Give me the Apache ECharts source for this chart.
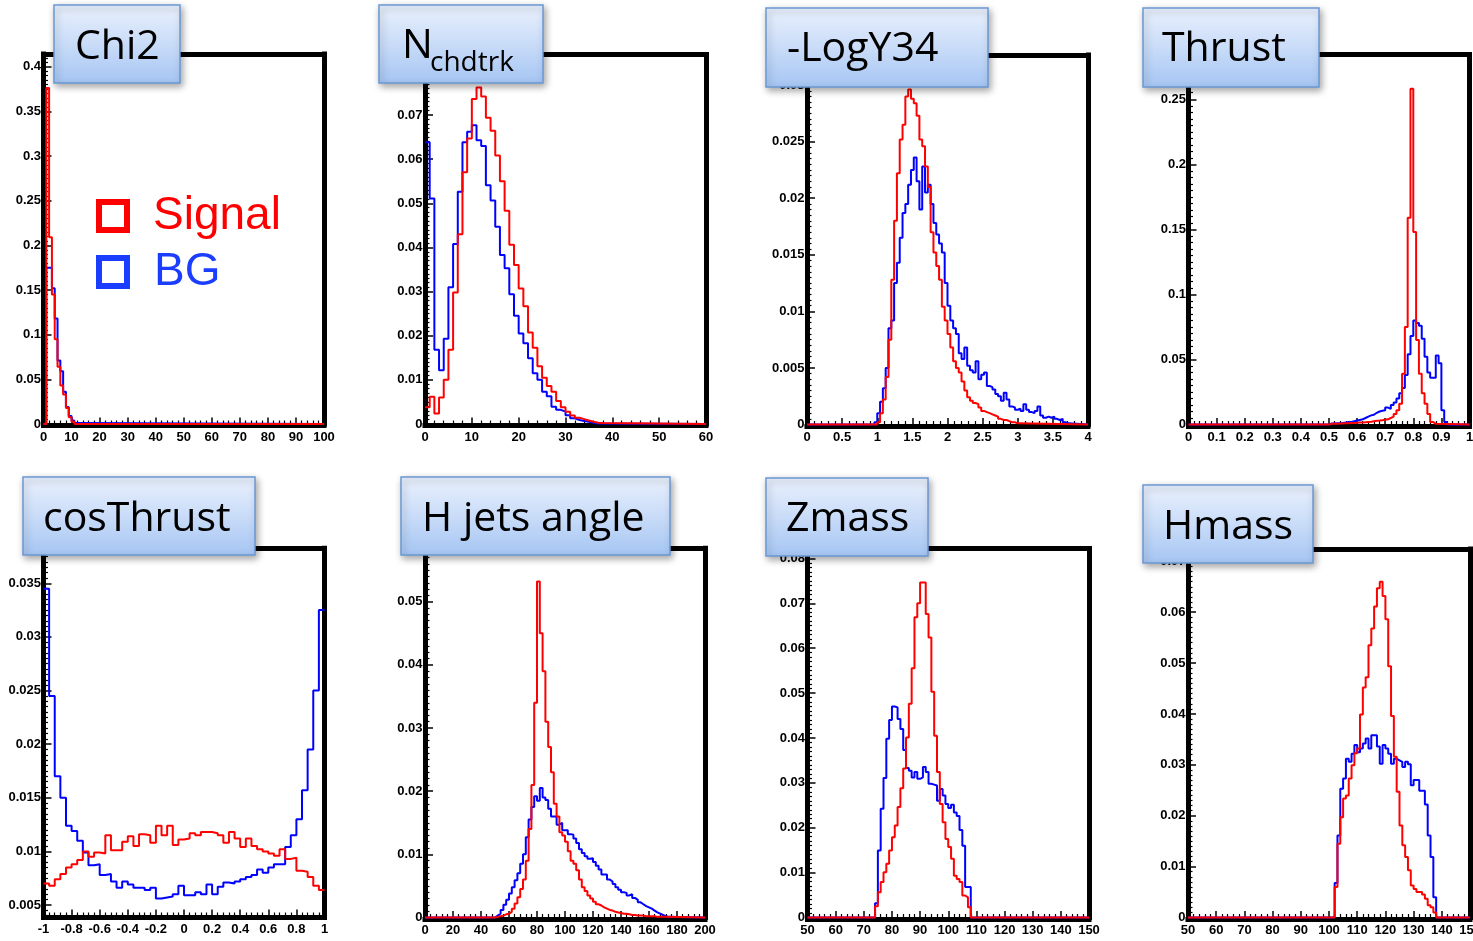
<!DOCTYPE html>
<html><head><meta charset="utf-8">
<script src="https://cdn.jsdelivr.net/npm/echarts@6/dist/echarts.min.js"></script>
<style>html,body{margin:0;padding:0;background:#fff;overflow:hidden}#c{width:1473px;height:941px}</style>
</head><body><div id="c"></div>
<script>
// ---------------- DATA (bin start, bin width, bin contents) ----------------
const chi2Start = 1, chi2Width = 1;
const chi2Signal = [0.376, 0.209, 0.145, 0.095, 0.064, 0.043, 0.033, 0.018, 0.0075, 0.0026];
const chi2BG = [0.175, 0.175, 0.152, 0.118, 0.071, 0.059, 0.036, 0.019, 0.009, 0.004, 0.0012];

const nchStart = 0, nchWidth = 1;
const nchSignal = [0.0038, 0.0062, 0.0024, 0.006, 0.01, 0.0168, 0.0298, 0.043, 0.057, 0.0647, 0.0736, 0.0762, 0.0742, 0.0694, 0.0664, 0.0608, 0.055, 0.0483, 0.0406, 0.036, 0.0307, 0.0267, 0.0207, 0.0173, 0.0131, 0.0105, 0.0086, 0.0073, 0.0052, 0.0038, 0.0028, 0.0019, 0.0014, 0.0011, 0.0008, 0.0005, 0.0003, 0.0002];
const nchBG = [0.0638, 0.0511, 0.0168, 0.0122, 0.0193, 0.031, 0.0408, 0.0526, 0.0638, 0.0662, 0.0677, 0.0643, 0.063, 0.0541, 0.0506, 0.0447, 0.0383, 0.0353, 0.0294, 0.0245, 0.0205, 0.0183, 0.0149, 0.0115, 0.01, 0.0073, 0.0063, 0.0039, 0.0032, 0.0028, 0.002, 0.0013, 0.0009, 0.0007, 0.0005, 0.0003, 0.0001];

const logySigStart = 1.0, logyBGStart = 0.96, logyWidth = 0.04;
const logySignal = [0.0002, 0.001, 0.0022, 0.0042, 0.0075, 0.0128, 0.018, 0.0222, 0.0252, 0.0265, 0.029, 0.0296, 0.0288, 0.0284, 0.0273, 0.0252, 0.0246, 0.0228, 0.021, 0.017, 0.0152, 0.014, 0.0128, 0.0104, 0.0092, 0.008, 0.0068, 0.0056, 0.005, 0.0046, 0.0038, 0.003, 0.0024, 0.0021, 0.0019, 0.0018, 0.0015, 0.0012, 0.0011, 0.001, 0.0009, 0.0008, 0.0007, 0.0005, 0.0004, 0.0004, 0.0003, 0.0002, 0.0002, 0.0001];
const logyBG = [0.0002, 0.001, 0.002, 0.0032, 0.005, 0.0085, 0.0092, 0.0125, 0.0143, 0.0165, 0.0187, 0.0195, 0.0212, 0.0225, 0.0236, 0.0215, 0.019, 0.0228, 0.0205, 0.0212, 0.0195, 0.0178, 0.0168, 0.016, 0.0152, 0.0125, 0.0105, 0.0092, 0.0085, 0.008, 0.0063, 0.0058, 0.0068, 0.0052, 0.0048, 0.0046, 0.0056, 0.004, 0.0044, 0.0046, 0.0034, 0.0033, 0.0031, 0.0027, 0.0025, 0.0021, 0.0028, 0.0022, 0.0016, 0.0015, 0.0013, 0.0014, 0.0012, 0.0018, 0.0013, 0.0011, 0.001, 0.0012, 0.0016, 0.0008, 0.0006, 0.0007, 0.0006, 0.0007, 0.0005, 0.0004, 0.0005, 0.0002, 0.0001];

const thrustStart = 0.5, thrustWidth = 0.01;
const thrustSignal = [0.0005, 0.0005, 0.0006, 0.0007, 0.0008, 0.0009, 0.001, 0.0011, 0.0012, 0.0013, 0.0015, 0.0016, 0.0018, 0.002, 0.0022, 0.0025, 0.0028, 0.003, 0.0033, 0.0036, 0.004, 0.005, 0.006, 0.008, 0.011, 0.016, 0.039, 0.075, 0.159, 0.258, 0.148, 0.065, 0.039, 0.024, 0.016, 0.008, 0.002, 0.0005];
const thrustBG = [0.0008, 0.0008, 0.001, 0.001, 0.0012, 0.0015, 0.002, 0.002, 0.0025, 0.003, 0.0035, 0.004, 0.005, 0.006, 0.007, 0.0075, 0.009, 0.01, 0.0105, 0.011, 0.013, 0.012, 0.015, 0.017, 0.02, 0.024, 0.028, 0.038, 0.054, 0.068, 0.08, 0.078, 0.076, 0.066, 0.052, 0.04, 0.036, 0.036, 0.053, 0.047, 0.011, 0.002];

const cosStart = -1, cosWidth = 0.04;
const cosSignal = [0.007, 0.0068, 0.0074, 0.0079, 0.0085, 0.0088, 0.0092, 0.01, 0.0095, 0.0099, 0.0098, 0.0115, 0.0101, 0.0101, 0.0109, 0.0114, 0.0105, 0.0116, 0.0115, 0.0108, 0.0124, 0.0115, 0.0124, 0.0106, 0.0111, 0.0112, 0.0117, 0.0115, 0.0118, 0.0118, 0.0117, 0.0115, 0.0108, 0.0118, 0.0112, 0.0104, 0.0112, 0.0105, 0.0102, 0.01, 0.0098, 0.0096, 0.0102, 0.0093, 0.0094, 0.0082, 0.0081, 0.0076, 0.0068, 0.0064];
const cosBG = [0.0345, 0.0245, 0.017, 0.015, 0.0124, 0.0119, 0.011, 0.0099, 0.0087, 0.0088, 0.0078, 0.0079, 0.0072, 0.0066, 0.0072, 0.0069, 0.0066, 0.0066, 0.0064, 0.0066, 0.0056, 0.0057, 0.0058, 0.006, 0.0068, 0.0059, 0.0059, 0.0062, 0.006, 0.0069, 0.006, 0.0067, 0.0071, 0.007, 0.0072, 0.0074, 0.0076, 0.0078, 0.0083, 0.008, 0.0085, 0.0088, 0.0088, 0.0104, 0.0115, 0.013, 0.0157, 0.0195, 0.025, 0.0325];

const hjetStart = 50, hjetWidth = 2;
const hjetSignal = [0.0001, 0.0002, 0.0003, 0.0005, 0.0006, 0.0009, 0.0014, 0.0022, 0.0032, 0.0045, 0.006, 0.009, 0.014, 0.021, 0.034, 0.0532, 0.045, 0.039, 0.031, 0.027, 0.023, 0.018, 0.016, 0.0135, 0.013, 0.012, 0.0105, 0.009, 0.0085, 0.0075, 0.006, 0.0048, 0.0042, 0.0035, 0.003, 0.0025, 0.0021, 0.0019, 0.0016, 0.0014, 0.0012, 0.0011, 0.0009, 0.0008, 0.0007, 0.0006, 0.0006, 0.0005, 0.0004, 0.0004, 0.0003, 0.0003, 0.0003, 0.0002, 0.0002, 0.0002, 0.0002, 0.0001, 0.0001, 0.0001];
const hjetBG = [0.0003, 0.0006, 0.0012, 0.002, 0.0028, 0.0038, 0.0048, 0.0059, 0.007, 0.0085, 0.01, 0.0127, 0.0155, 0.0175, 0.0192, 0.0185, 0.0205, 0.019, 0.0186, 0.0172, 0.016, 0.016, 0.0147, 0.015, 0.0138, 0.0138, 0.0132, 0.0131, 0.0125, 0.0118, 0.0108, 0.0102, 0.0097, 0.0093, 0.0094, 0.0088, 0.0082, 0.0076, 0.0068, 0.0068, 0.006, 0.0057, 0.0053, 0.0048, 0.0044, 0.004, 0.0039, 0.0035, 0.0037, 0.0031, 0.0028, 0.0024, 0.0021, 0.0018, 0.0016, 0.0014, 0.0011, 0.0008, 0.0006, 0.0004, 0.0002, 0.0001];

const zStart = 74, zWidth = 1;
const zSignal = [0.0025, 0.0056, 0.0079, 0.0101, 0.012, 0.0149, 0.0179, 0.0205, 0.0246, 0.0288, 0.0332, 0.0401, 0.0476, 0.0555, 0.0669, 0.07, 0.0746, 0.0746, 0.0676, 0.0624, 0.0503, 0.0405, 0.0324, 0.0253, 0.0212, 0.0175, 0.0157, 0.0131, 0.0093, 0.0086, 0.0079, 0.0049, 0.0045, 0.0023];
const zBG = [0.0032, 0.0149, 0.0242, 0.0311, 0.0398, 0.044, 0.047, 0.0468, 0.0442, 0.042, 0.0373, 0.0333, 0.0327, 0.0312, 0.0324, 0.0309, 0.0312, 0.0335, 0.0324, 0.0298, 0.0296, 0.0294, 0.026, 0.0286, 0.0272, 0.0253, 0.0244, 0.0251, 0.0234, 0.0226, 0.0195, 0.016, 0.0068, 0.0068];

const hStart = 102, hWidth = 1;
const hSignal = [0.006, 0.0145, 0.0197, 0.0234, 0.024, 0.0273, 0.0299, 0.0323, 0.0332, 0.0399, 0.0452, 0.0472, 0.0535, 0.0568, 0.0611, 0.0647, 0.066, 0.0632, 0.0586, 0.0494, 0.0396, 0.0316, 0.0247, 0.0181, 0.0142, 0.0119, 0.0093, 0.0063, 0.0056, 0.005, 0.005, 0.0045, 0.0037, 0.0024, 0.002, 0.001];
const hBG = [0.0068, 0.0161, 0.0253, 0.0273, 0.0312, 0.0306, 0.0322, 0.0339, 0.0325, 0.0332, 0.0342, 0.0352, 0.0332, 0.0358, 0.0358, 0.0336, 0.0302, 0.0339, 0.0332, 0.0322, 0.0302, 0.0312, 0.0309, 0.0306, 0.0296, 0.0306, 0.0301, 0.026, 0.027, 0.027, 0.0249, 0.0249, 0.0222, 0.0161, 0.0119, 0.004];

// ---------------- tick labels ----------------
const chi2XTicks = [0, 10, 20, 30, 40, 50, 60, 70, 80, 90, 100];
const chi2YTicks = [0, 0.05, 0.1, 0.15, 0.2, 0.25, 0.3, 0.35, 0.4];
const nchXTicks = [0, 10, 20, 30, 40, 50, 60];
const nchYTicks = [0, 0.01, 0.02, 0.03, 0.04, 0.05, 0.06, 0.07, 0.08];
const logyXTicks = [0, 0.5, 1, 1.5, 2, 2.5, 3, 3.5, 4];
const logyYTicks = [0, 0.005, 0.01, 0.015, 0.02, 0.025, 0.03];
const thrustXTicks = [0, 0.1, 0.2, 0.3, 0.4, 0.5, 0.6, 0.7, 0.8, 0.9, 1];
const thrustYTicks = [0, 0.05, 0.1, 0.15, 0.2, 0.25];
const cosXTicks = [-1, -0.8, -0.6, -0.4, -0.2, 0, 0.2, 0.4, 0.6, 0.8, 1];
const cosYTicks = [0.005, 0.01, 0.015, 0.02, 0.025, 0.03, 0.035];
const hjetXTicks = [0, 20, 40, 60, 80, 100, 120, 140, 160, 180, 200];
const hjetYTicks = [0, 0.01, 0.02, 0.03, 0.04, 0.05];
const massXTicks = [50, 60, 70, 80, 90, 100, 110, 120, 130, 140, 150];
const zYTicks = [0, 0.01, 0.02, 0.03, 0.04, 0.05, 0.06, 0.07, 0.08];
const hYTicks = [0, 0.01, 0.02, 0.03, 0.04, 0.05, 0.06, 0.07];

const titles = ['Chi2', 'N', '-LogY34', 'Thrust', 'cosThrust', 'H jets angle', 'Zmass', 'Hmass'];
const legendNames = ['Signal', 'BG'];

// ---------------- panel definitions ----------------
const panels = [
  {x:[0,100], y:[0,0.4142], xt:chi2XTicks, yt:chi2YTicks, sig:[chi2Start,chi2Width,chi2Signal], bg:[chi2Start,chi2Width,chi2BG]},
  {x:[0,60], y:[0,0.0837], xt:nchXTicks, yt:nchYTicks, sig:[nchStart,nchWidth,nchSignal], bg:[nchStart,nchWidth,nchBG]},
  {x:[0,4], y:[0,0.03266], xt:logyXTicks, yt:logyYTicks, sig:[logySigStart,logyWidth,logySignal], bg:[logyBGStart,logyWidth,logyBG]},
  {x:[0,1], y:[0,0.2844], xt:thrustXTicks, yt:thrustYTicks, sig:[thrustStart,thrustWidth,thrustSignal], bg:[thrustStart,thrustWidth,thrustBG]},
  {x:[-1,1], y:[0.003974,0.038264], xt:cosXTicks, yt:cosYTicks, sig:[cosStart,cosWidth,cosSignal], bg:[cosStart,cosWidth,cosBG]},
  {x:[0,200], y:[0,0.05846], xt:hjetXTicks, yt:hjetYTicks, sig:[hjetStart,hjetWidth,hjetSignal], bg:[hjetStart,hjetWidth,hjetBG]},
  {x:[50,150], y:[0,0.0822], xt:massXTicks, yt:zYTicks, sig:[zStart,zWidth,zSignal], bg:[zStart,zWidth,zBG]},
  {x:[50,150], y:[0,0.07242], xt:massXTicks, yt:hYTicks, sig:[hStart,hWidth,hSignal], bg:[hStart,hWidth,hBG]}
];

// ---------------- layout (pixels) ----------------
const gridPos = [
  {l:43.5, r:324, t:54, b:424},
  {l:425, r:706, t:54.5, b:424},
  {l:807, r:1088, t:55, b:424.5},
  {l:1188.5, r:1469.5, t:54.5, b:424.5},
  {l:43.5, r:324.5, t:548.3, b:916},
  {l:425, r:705, t:548.3, b:917.5},
  {l:807.5, r:1089, t:548.5, b:917.5},
  {l:1188, r:1470, t:549, b:917.5}
];
const boxPos = [
  {x:54, y:5, w:126, h:78, tx:75, ty:47},
  {x:379, y:5, w:164, h:78, tx:402, ty:46},
  {x:766, y:8, w:222, h:79, tx:787, ty:49},
  {x:1143, y:8, w:176, h:79, tx:1162, ty:49},
  {x:23, y:477, w:232, h:78, tx:43, ty:519},
  {x:401, y:477, w:269, h:78, tx:422, ty:519},
  {x:766, y:478, w:162, h:78, tx:786, ty:519},
  {x:1143, y:485, w:170, h:78, tx:1163, ty:527}
];

const RED = '#ff0000', BLUE = '#0000ff';
const LABEL_FONT = {color:'#000', fontSize:13, fontWeight:'bold', fontFamily:'Liberation Sans, Arial, sans-serif'};
const fmt = v => String(+(+v).toFixed(6));

function minors(ticks, div, range) {
  const step = (ticks[1] - ticks[0]) / div;
  const out = [];
  const k0 = Math.ceil(range[0] / step - 1e-6), k1 = Math.floor(range[1] / step + 1e-6);
  for (let k = k0; k <= k1; k++) {
    const v = +(k * step).toFixed(8);
    if (!ticks.some(t => Math.abs(t - v) < step * 1e-3)) out.push(v);
  }
  return out;
}
function histPoints(h, xr) {
  const [start, w, vals] = h;
  const pts = [];
  if (start > xr[0] + 1e-9) pts.push([xr[0], 0]);
  vals.forEach((v, i) => pts.push([+(start + i * w).toFixed(6), v]));
  const end = +(start + vals.length * w).toFixed(6);
  pts.push([end, vals[vals.length - 1]]);
  if (end < xr[1] - 1e-9) { pts.push([end, 0]); pts.push([xr[1], 0]); }
  return pts;
}

const grid = [], xAxis = [], yAxis = [], series = [], graphic = [];
panels.forEach((p, i) => {
  const g = gridPos[i];
  grid.push({left:g.l, top:g.t, width:g.r - g.l, height:g.b - g.t, containLabel:false, outerBoundsMode:'none', show:false});
  const base = {gridIndex:i, type:'value', splitLine:{show:false}, silent:true, axisPointer:{show:false}};
  // x: major, minor, top frame
  xAxis.push(Object.assign({}, base, {min:p.x[0], max:p.x[1], position:'bottom', offset:1.5,
    axisLine:{show:true, onZero:false, lineStyle:{color:'#000', width:5, cap:'square'}},
    axisTick:{show:true, inside:true, length:8, customValues:p.xt, lineStyle:{color:'#000', width:1.5}},
    axisLabel:Object.assign({show:true, margin:5, customValues:p.xt, formatter:fmt}, LABEL_FONT)}));
  xAxis.push(Object.assign({}, base, {min:p.x[0], max:p.x[1], position:'bottom', offset:1.5,
    axisLine:{show:false, onZero:false},
    axisTick:{show:true, inside:true, length:5, customValues:minors(p.xt, 5, p.x), lineStyle:{color:'#000', width:1.2}},
    axisLabel:{show:false}}));
  xAxis.push(Object.assign({}, base, {min:p.x[0], max:p.x[1], position:'top',
    axisLine:{show:true, onZero:false, lineStyle:{color:'#000', width:5, cap:'square'}},
    axisTick:{show:false}, axisLabel:{show:false}}));
  // y: major, minor, right frame
  yAxis.push(Object.assign({}, base, {min:p.y[0], max:p.y[1], position:'left', offset:0,
    axisLine:{show:true, onZero:false, lineStyle:{color:'#000', width:5, cap:'square'}},
    axisTick:{show:true, inside:true, length:8, customValues:p.yt, lineStyle:{color:'#000', width:1.5}},
    axisLabel:Object.assign({show:true, margin:2.5, customValues:p.yt, formatter:fmt}, LABEL_FONT)}));
  yAxis.push(Object.assign({}, base, {min:p.y[0], max:p.y[1], position:'left', offset:0,
    axisLine:{show:false, onZero:false},
    axisTick:{show:true, inside:true, length:4.5, customValues:minors(p.yt, 10, p.y), lineStyle:{color:'#000', width:1.2}},
    axisLabel:{show:false}}));
  yAxis.push(Object.assign({}, base, {min:p.y[0], max:p.y[1], position:'right',
    axisLine:{show:true, onZero:false, lineStyle:{color:'#000', width:5, cap:'square'}},
    axisTick:{show:false}, axisLabel:{show:false}}));

  series.push({name:legendNames[1], type:'line', step:'end', xAxisIndex:3*i, yAxisIndex:3*i,
    data:histPoints(p.bg, p.x), symbol:'none', showSymbol:false, clip:false, z:3,
    lineStyle:{color:BLUE, width:2}, itemStyle:{color:BLUE}, animation:false, silent:true});
  series.push({name:legendNames[0], type:'line', step:'end', xAxisIndex:3*i, yAxisIndex:3*i,
    data:histPoints(p.sig, p.x), symbol:'none', showSymbol:false, clip:false, z:4,
    lineStyle:{color:RED, width:2}, itemStyle:{color:RED}, animation:false, silent:true});

  // title box
  const b = boxPos[i];
  graphic.push({type:'rect', z:100, silent:true, shape:{x:b.x, y:b.y, width:b.w, height:b.h},
    style:{fill:{type:'linear', x:0, y:0, x2:0, y2:1, colorStops:[{offset:0, color:'#eaf1fd'}, {offset:0.5, color:'#c9dcf8'}, {offset:1, color:'#a5c5f3'}]},
      stroke:'#6b98d2', lineWidth:1.5, shadowBlur:7, shadowOffsetX:2, shadowOffsetY:3, shadowColor:'rgba(0,0,0,0.35)'}});
  graphic.push({type:'text', z:101, silent:true, style:{text:titles[i], x:b.tx, y:b.ty, fill:'#000',
    fontSize:41, fontFamily:'Open Sans, Lato, sans-serif', align:'left', verticalAlign:'middle'}});
});
// subscript for N_chdtrk
graphic.push({type:'text', z:101, silent:true, style:{text:'chdtrk', x:430, y:63, fill:'#000',
  fontSize:28, fontFamily:'Open Sans, Lato, sans-serif', align:'left', verticalAlign:'middle'}});

// legend (Signal / BG) in first panel
graphic.push({type:'rect', z:50, silent:true, shape:{x:99, y:202, width:28, height:28}, style:{fill:'none', stroke:'#ff0000', lineWidth:6}});
graphic.push({type:'rect', z:50, silent:true, shape:{x:99, y:258, width:28, height:28}, style:{fill:'none', stroke:'#1a3dff', lineWidth:6}});
graphic.push({type:'text', z:50, silent:true, style:{text:legendNames[0], x:153, y:216, fill:'#ff0000', fontSize:46, fontFamily:'Liberation Sans, Arial, sans-serif', align:'left', verticalAlign:'middle'}});
graphic.push({type:'text', z:50, silent:true, style:{text:legendNames[1], x:154, y:272, fill:'#1a3dff', fontSize:46, fontFamily:'Liberation Sans, Arial, sans-serif', align:'left', verticalAlign:'middle'}});

const chart = echarts.init(document.getElementById('c'), null, {renderer:'canvas', width:1473, height:941});
chart.setOption({backgroundColor:'#fff', animation:false, grid, xAxis, yAxis, series, graphic});
</script></body></html>
